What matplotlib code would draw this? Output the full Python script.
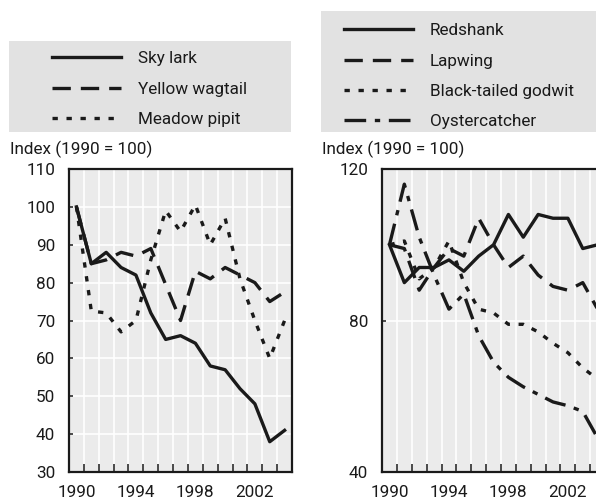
import matplotlib
matplotlib.use("Agg")
import matplotlib.pyplot as plt
from matplotlib.ticker import MultipleLocator, FixedLocator

plt.rcParams['font.family'] = ['Roboto', 'DejaVu Sans']

years = [1990, 1991, 1992, 1993, 1994, 1995, 1996, 1997, 1998, 1999, 2000, 2001, 2002, 2003, 2004]

# left panel: farmland birds
sky_lark = [100, 85, 88, 84, 82, 72, 65, 66, 64, 58, 57, 52, 48, 38, 41]
yellow_wagtail = [100, 85, 86, 88, 87, 89, 79.5, 70, 83, 81, 84, 82, 80, 75, 77.5]
meadow_pipit = [100, 72.5, 72, 67, 70, 86, 99, 93.5, 100.5, 90, 97, 81, 70, 60, 70]

# right panel: wading birds
redshank = [100, 90, 94, 94, 96, 93, 97, 100, 108, 102, 108, 107, 107, 99, 100]
lapwing = [100, 99, 88, 94, 99, 97, 107, 100, 94, 97, 92, 89, 88, 90, 83]
godwit = [100, 101, 91, 94, 101, 90, 83, 82, 79, 79, 77, 74, 71.5, 67.5, 64.5]
oystercatcher = [100, 116, 102, 92, 83, 87, 76, 69, 65, 62.5, 60.5, 58.5, 57.5, 56, 49]

left_names = ["Sky lark", "Yellow wagtail", "Meadow pipit"]
right_names = ["Redshank", "Lapwing", "Black-tailed godwit", "Oystercatcher"]
ylabel = "Index (1990 = 100)"
xlabels = ["1990", "1994", "1998", "2002"]

INK = "#1a1a1a"
BG = "#ebebeb"
LEG_BG = "#e2e2e2"
LW = 2.4
FS = 12.3

styles = {
    "solid": "-",
    "dash": (0, (5.5, 3.0)),
    "dot": (0, (1.6, 2.6)),
    "dashdot": (0, (6.5, 2.6, 1.6, 2.6)),
}

fig = plt.figure(figsize=(5.96, 5.03), dpi=100)


def setup(ax, ymin, ymax, ystep, gridvals):
    ax.set_facecolor(BG)
    ax.set_xlim(1989.5, 2004.5)
    ax.set_ylim(ymin, ymax)
    ax.xaxis.set_major_locator(FixedLocator([int(s) for s in xlabels]))
    ax.set_xticklabels(xlabels)
    ax.xaxis.set_minor_locator(FixedLocator([y + 0.5 for y in years[:-1]]))
    ax.yaxis.set_major_locator(MultipleLocator(ystep))
    ax.tick_params(axis='x', which='major', length=0, pad=9, labelsize=FS, colors=INK)
    ax.tick_params(axis='x', which='minor', direction='in', length=5.5, width=1.1, color=INK)
    ax.tick_params(axis='y', which='major', direction='in', length=3, width=1.1, pad=10,
                   labelsize=FS, colors=INK)
    for x in [y + 0.5 for y in years[:-1]]:
        ax.axvline(x, color='white', lw=1.2, zorder=0.5)
    for g in gridvals:
        ax.axhline(g, color='white', lw=1.2, zorder=0.5)
    for s in ax.spines.values():
        s.set_color(INK)
        s.set_linewidth(1.6)


axl = fig.add_axes([0.1158, 0.0616, 0.3742, 0.6024])
setup(axl, 30, 110, 10, [40, 50, 60, 70, 80, 90, 100])
l1, = axl.plot(years, sky_lark, color=INK, lw=LW, ls=styles["solid"])
l2, = axl.plot(years, yellow_wagtail, color=INK, lw=LW, ls=styles["dash"])
l3, = axl.plot(years, meadow_pipit, color=INK, lw=LW, ls=styles["dot"])

axr = fig.add_axes([0.641, 0.0616, 0.3742, 0.6024])
setup(axr, 40, 120, 40, [80])
r1, = axr.plot(years, redshank, color=INK, lw=LW, ls=styles["solid"])
r2, = axr.plot(years, lapwing, color=INK, lw=LW, ls=styles["dash"])
r3, = axr.plot(years, godwit, color=INK, lw=LW, ls=styles["dot"])
r4, = axr.plot(years, oystercatcher, color=INK, lw=LW, ls=styles["dashdot"])

fig.text(10 / 596, 1 - 149 / 503, ylabel, fontsize=FS, color=INK, va='center', ha='left')
fig.text(322 / 596, 1 - 149 / 503, ylabel, fontsize=FS, color=INK, va='center', ha='left')

# legend boxes
legl = fig.add_axes([9 / 596, 1 - 132 / 503, 282 / 596, 91 / 503])
legr = fig.add_axes([321 / 596, 1 - 132 / 503, 300 / 596, 121 / 503])
for lax in (legl, legr):
    lax.set_facecolor(LEG_BG)
    lax.set_xticks([])
    lax.set_yticks([])
    for s in lax.spines.values():
        s.set_visible(False)

legl.legend([l1, l2, l3], left_names, loc='center left', bbox_to_anchor=(0.13, 0.47),
            frameon=False, fontsize=FS, handlelength=4.0, handletextpad=1.0,
            labelspacing=0.9, borderaxespad=0, labelcolor=INK)
legr.legend([r1, r2, r3, r4], right_names, loc='center left', bbox_to_anchor=(0.055, 0.46),
            frameon=False, fontsize=FS, handlelength=4.0, handletextpad=1.0,
            labelspacing=0.9, borderaxespad=0, labelcolor=INK)

fig.savefig("out.png", dpi=100)
